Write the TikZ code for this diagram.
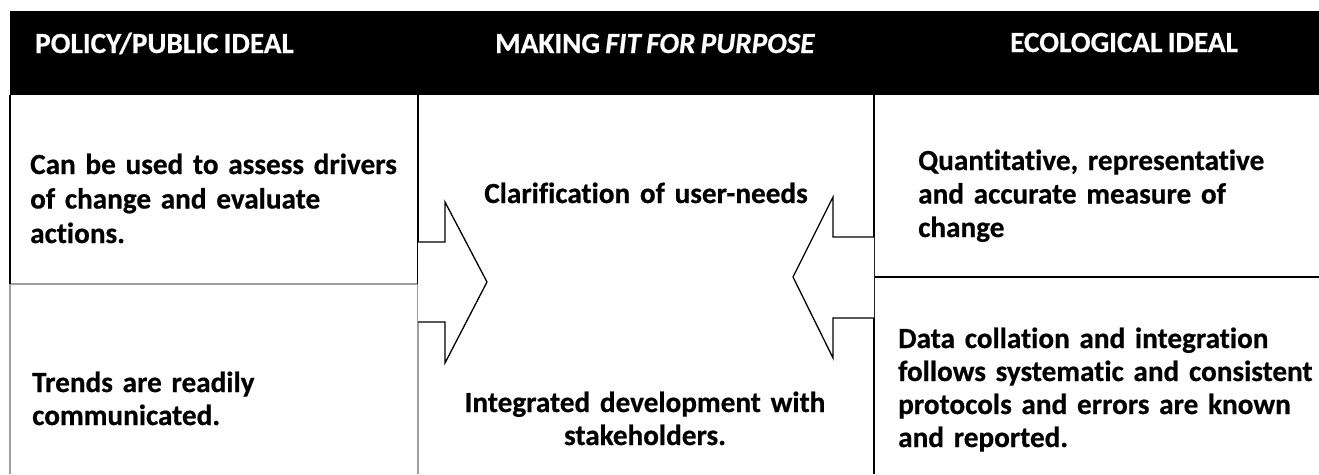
\documentclass[tikz,border=0pt]{standalone}
\usepackage{fontspec}
\setmainfont{Carlito}[Ligatures={NoCommon}, WordSpace=0.8,
  BoldFeatures={FakeBold=0.6}, BoldItalicFeatures={FakeBold=0.6}]
\begin{document}
\begin{tikzpicture}[x=1pt,y=-1pt,
  txt/.style={inner sep=0pt, anchor=base west, text width=600pt, align=left,
    font=\bfseries\fontsize{29.2}{34}\selectfont},
  ctxt/.style={inner sep=0pt, anchor=base, text width=600pt, align=center,
    font=\bfseries\fontsize{29.2}{33}\selectfont},
  head/.style={inner sep=0pt, anchor=base west, text=white,
    font=\bfseries\fontsize{29.2}{34}\selectfont},
  rule/.style={draw=black, line width=1.6pt},
  softrule/.style={draw=black!38, line width=1.4pt},
  bigarrow/.style={draw=black, fill=white, line width=1.3pt, line join=miter}]
\useasboundingbox (0,0) rectangle (1319,474);

% header band
\fill[black] (10,11) rectangle (1319,95);
\node[head] (hpol) at (35,53) {POLICY/PUBLIC IDEAL};
\node[head] (hfit) at (495,53) {MAKING \textit{FIT FOR PURPOSE}};
\node[head] (heco) at (1010,52) {ECOLOGICAL IDEAL};

% column frames
\draw[softrule] (10,284) -- (418,284);
\draw[softrule] (10,284) -- (10,474);
\draw[softrule] (418,284) -- (418,474);
\draw[rule] (10,95) -- (10,284);
\draw[rule] (418,95) -- (418,284);
\draw[rule] (874,95) -- (874,474);
\draw[rule] (874,277) -- (1319,277);

% block arrows pointing to the middle column
\draw[bigarrow] (418,242) -- (445,242) -- (445,202) -- (487,282) -- (445,363) -- (445,322) -- (418,322);
\draw[bigarrow] (874,237) -- (833,237) -- (833,197) -- (793,277) -- (833,358) -- (833,318) -- (874,318);

% left column
\node[txt, font=\bfseries\fontsize{29.2}{34.5}\selectfont] (pol1) at (30,174)
  {Can be used to assess drivers\\of change and evaluate\\actions.};
\node[txt, font=\bfseries\fontsize{29.2}{33}\selectfont] (pol2) at (32,392)
  {Trends are readily\\communicated.};

% middle column
\node[ctxt] (fit1) at (646,203) {Clarification of user-needs};
\node[ctxt] (fit2) at (645,412) {Integrated development with\\stakeholders.};

% right column
\node[txt, font=\bfseries\fontsize{29.2}{33.5}\selectfont] (eco1) at (918,170)
  {Quantitative, representative\\and accurate measure of\\change};
\node[txt, font=\bfseries\fontsize{29.2}{33}\selectfont] (eco2) at (898,348)
  {Data collation and integration\\follows systematic and consistent\\protocols and errors are known\\and reported.};
\end{tikzpicture}
\end{document}
